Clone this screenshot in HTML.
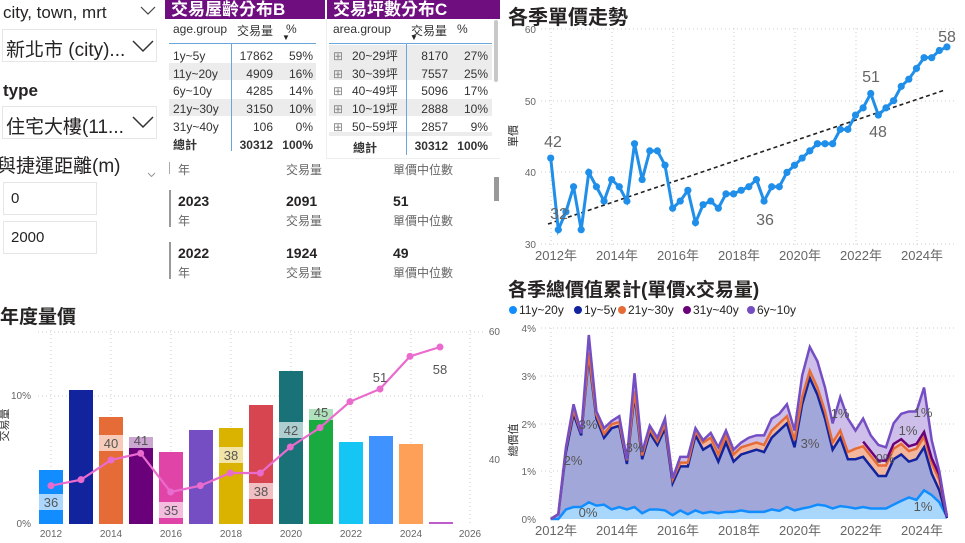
<!DOCTYPE html>
<html><head><meta charset="utf-8">
<style>
*{margin:0;padding:0;box-sizing:border-box}
body{width:965px;height:543px;background:#fff;position:relative;overflow:hidden;font-family:"Liberation Sans","Noto Sans CJK TC",sans-serif;color:#252423}
.a{position:absolute;white-space:nowrap}
.box{position:absolute;border:1px solid #e6e6e6;background:#fff}
.hd{position:absolute;background:#6f0e7f;color:#fff;font-weight:bold;font-size:17px;line-height:19px;padding-left:6px}
.t{font-size:12px;color:#333}
.r{text-align:right}
.sh{position:absolute;background:#ececec}
.g{color:#666}
</style></head><body>

<!-- left filters -->
<div class="a" style="left:3px;top:3px;font-size:17px">city, town, mrt</div>
<svg class="a" style="left:140px;top:6px" width="16" height="10"><polyline points="1,1 8,8 15,1" fill="none" stroke="#444" stroke-width="1.2"/></svg>
<div class="box" style="left:2px;top:29px;width:155px;height:33px"></div>
<div class="a" style="left:6px;top:35px;font-size:19px">新北市 (city)...</div>
<svg class="a" style="left:132px;top:40px" width="22" height="13"><polyline points="1,1 11,11 21,1" fill="none" stroke="#333" stroke-width="1.5"/></svg>
<div class="a" style="left:3px;top:81px;font-size:17px;font-weight:bold">type</div>
<div class="box" style="left:2px;top:106px;width:155px;height:33px"></div>
<div class="a" style="left:6px;top:112px;font-size:19px">住宅大樓(11...</div>
<svg class="a" style="left:132px;top:116px" width="22" height="13"><polyline points="1,1 11,11 21,1" fill="none" stroke="#333" stroke-width="1.5"/></svg>
<div class="a" style="left:-3px;top:151px;font-size:19px">與捷運距離(m)</div>
<svg class="a" style="left:147px;top:172px" width="9" height="6"><polyline points="1,1 4.5,4.5 8,1" fill="none" stroke="#999" stroke-width="1"/></svg>
<div class="box" style="left:3px;top:182px;width:94px;height:33px"></div>
<div class="a" style="left:11px;top:190px;font-size:15px">0</div>
<div class="box" style="left:3px;top:221px;width:94px;height:33px"></div>
<div class="a" style="left:11px;top:229px;font-size:15px">2000</div>

<!-- table B -->
<div class="hd" style="left:165px;top:0;width:160px;height:19px">交易屋齡分布B</div>
<div class="a t" style="left:173px;top:22px">age.group</div>
<div class="a t" style="left:237px;top:22px">交易量</div>
<div class="a t" style="left:286px;top:22px">%</div>
<div class="a" style="left:282px;top:33px;font-size:8px">&#9660;</div>
<div class="a" style="left:169px;top:43px;width:147px;height:1px;background:#6aa6d8"></div>
<div class="sh" style="left:169px;top:63px;width:147px;height:17px"></div>
<div class="sh" style="left:169px;top:99px;width:147px;height:17px"></div>
<div class="a" style="left:231px;top:44px;width:1px;height:107px;background:#6aa6d8"></div>
<div class="a t" style="left:173px;top:48px;line-height:17.7px;font-size:12px">1y~5y<br>11y~20y<br>6y~10y<br>21y~30y<br>31y~40y<br><b>總計</b></div>
<div class="a t r" style="left:233px;top:48px;width:40px;line-height:17.7px">17862<br>4909<br>4285<br>3150<br>106<br><b>30312</b></div>
<div class="a t r" style="left:274px;top:48px;width:39px;line-height:17.7px">59%<br>16%<br>14%<br>10%<br>0%<br><b>100%</b></div>

<!-- table C -->
<div class="hd" style="left:327px;top:0;width:173px;height:19px">交易坪數分布C</div>
<div class="a" style="left:326px;top:19px;width:1px;height:140px;background:#eee"></div>
<div class="a" style="left:326px;top:158px;width:174px;height:1px;background:#eee"></div>
<div class="a t" style="left:333px;top:22px">area.group</div>
<div class="a t" style="left:411px;top:22px">交易量</div>
<div class="a t" style="left:457px;top:22px">%</div>
<div class="a" style="left:410px;top:33px;font-size:8px">&#9660;</div>
<div class="a" style="left:329px;top:43px;width:163px;height:1px;background:#6aa6d8"></div>
<div class="sh" style="left:329px;top:45px;width:163px;height:18px"></div>
<div class="sh" style="left:329px;top:63px;width:163px;height:17px"></div>
<div class="sh" style="left:329px;top:99px;width:163px;height:17px"></div>
<div class="sh" style="left:329px;top:132px;width:163px;height:4px"></div>
<div class="a" style="left:406px;top:44px;width:1px;height:111px;background:#6aa6d8"></div>
<div class="a t" style="left:333px;top:48px;line-height:17.7px;color:#888">⊞<br>⊞<br>⊞<br>⊞<br>⊞</div>
<div class="a t" style="left:352px;top:48px;line-height:17.7px">20~29坪<br>30~39坪<br>40~49坪<br>10~19坪<br>50~59坪</div>
<div class="a t" style="left:353px;top:139px"><b>總計</b></div>
<div class="a t r" style="left:408px;top:48px;width:40px;line-height:17.7px">8170<br>7557<br>5096<br>2888<br>2857</div>
<div class="a t r" style="left:450px;top:48px;width:38px;line-height:17.7px">27%<br>25%<br>17%<br>10%<br>9%</div>
<div class="a t r" style="left:408px;top:139px;width:40px"><b>30312</b></div>
<div class="a t r" style="left:450px;top:139px;width:38px"><b>100%</b></div>
<div class="a" style="left:494px;top:20px;width:4px;height:62px;background:#c8c8c8;border-radius:2px"></div>

<!-- cards -->
<div class="a" style="left:169px;top:162px;width:1px;height:12px;background:#aaa"></div>
<div class="a g" style="left:178px;top:161px;font-size:12px">年</div>
<div class="a g" style="left:286px;top:161px;font-size:12px">交易量</div>
<div class="a g" style="left:393px;top:161px;font-size:12px">單價中位數</div>
<div class="a" style="left:169px;top:190px;width:2px;height:37px;background:#999"></div>
<div class="a" style="left:178px;top:193px;font-size:14px;font-weight:bold">2023</div>
<div class="a" style="left:286px;top:193px;font-size:14px;font-weight:bold">2091</div>
<div class="a" style="left:393px;top:193px;font-size:14px;font-weight:bold">51</div>
<div class="a g" style="left:178px;top:212px;font-size:12px">年</div>
<div class="a g" style="left:286px;top:212px;font-size:12px">交易量</div>
<div class="a g" style="left:393px;top:212px;font-size:12px">單價中位數</div>
<div class="a" style="left:169px;top:242px;width:2px;height:37px;background:#999"></div>
<div class="a" style="left:178px;top:245px;font-size:14px;font-weight:bold">2022</div>
<div class="a" style="left:286px;top:245px;font-size:14px;font-weight:bold">1924</div>
<div class="a" style="left:393px;top:245px;font-size:14px;font-weight:bold">49</div>
<div class="a g" style="left:178px;top:264px;font-size:12px">年</div>
<div class="a g" style="left:286px;top:264px;font-size:12px">交易量</div>
<div class="a g" style="left:393px;top:264px;font-size:12px">單價中位數</div>
<div class="a" style="left:494px;top:177px;width:5px;height:24px;background:#999"></div>

<!-- titles -->
<div class="a" style="left:0;top:302px;font-size:19px;font-weight:bold">年度量價</div>
<div class="a" style="left:508px;top:1px;font-size:20px;font-weight:bold">各季單價走勢</div>
<div class="a" style="left:508px;top:275px;font-size:19px;font-weight:bold">各季總價值累計(單價x交易量)</div>

<svg id="s" width="965" height="543" style="position:absolute;left:0;top:0" font-family="Liberation Sans, Noto Sans CJK TC, sans-serif">
<g id="grid" stroke="#ccc" stroke-dasharray="1,3" fill="none"></g>
<g id="plot"></g>
<g font-size="10" fill="#666">
<text x="31" y="399" text-anchor="end">10%</text>
<text x="31" y="527" text-anchor="end">0%</text>
<text x="500" y="335" text-anchor="end">60</text>
<text x="500" y="463" text-anchor="end">40</text>
<text x="51" y="537" text-anchor="middle">2012</text>
<text x="111" y="537" text-anchor="middle">2014</text>
<text x="171" y="537" text-anchor="middle">2016</text>
<text x="231" y="537" text-anchor="middle">2018</text>
<text x="291" y="537" text-anchor="middle">2020</text>
<text x="351" y="537" text-anchor="middle">2022</text>
<text x="411" y="537" text-anchor="middle">2024</text>
<text x="470" y="537" text-anchor="middle">2026</text>
<text transform="translate(8,425) rotate(-90)" text-anchor="middle" fill="#333" font-size="11">交易量</text>
</g>
<g font-size="10" fill="#666">
<text x="536" y="33" text-anchor="end">60</text>
<text x="536" y="105" text-anchor="end">50</text>
<text x="536" y="176" text-anchor="end">40</text>
<text x="536" y="248" text-anchor="end">30</text>
<text transform="translate(517,136) rotate(-90)" text-anchor="middle" fill="#333" font-size="11">單價</text>
</g>
<g font-size="13" fill="#666" text-anchor="middle">
<text x="556" y="260">2012年</text><text x="617" y="260">2014年</text><text x="678" y="260">2016年</text><text x="739" y="260">2018年</text><text x="800" y="260">2020年</text><text x="861" y="260">2022年</text><text x="922" y="260">2024年</text>
<text x="556" y="535">2012年</text><text x="617" y="535">2014年</text><text x="678" y="535">2016年</text><text x="739" y="535">2018年</text><text x="800" y="535">2020年</text><text x="861" y="535">2022年</text><text x="922" y="535">2024年</text>
</g>
<g font-size="16" fill="#666" text-anchor="middle">
<text x="553" y="147">42</text><text x="559" y="219">32</text><text x="765" y="225">36</text><text x="871" y="82">51</text><text x="878" y="137">48</text><text x="947" y="42">58</text>
</g>
<g font-size="10" fill="#666">
<text x="536" y="332" text-anchor="end">4%</text>
<text x="536" y="380" text-anchor="end">3%</text>
<text x="536" y="428" text-anchor="end">2%</text>
<text x="536" y="475" text-anchor="end">1%</text>
<text x="536" y="523" text-anchor="end">0%</text>
<text transform="translate(517,440) rotate(-90)" text-anchor="middle" fill="#333" font-size="11">總價值</text>
</g>
<g font-size="12" fill="#252423">
<circle cx="513" cy="310" r="4" fill="#118dff"/><text x="519" y="314">11y~20y</text>
<circle cx="578" cy="310" r="4" fill="#12239e"/><text x="584" y="314">1y~5y</text>
<circle cx="622" cy="310" r="4" fill="#e66c37"/><text x="628" y="314">21y~30y</text>
<circle cx="687" cy="310" r="4" fill="#6b007b"/><text x="693" y="314">31y~40y</text>
<circle cx="751" cy="310" r="4" fill="#744ec2"/><text x="757" y="314">6y~10y</text>
</g>
<g font-size="13" fill="#555" text-anchor="middle">
<text x="588" y="429">3%</text><text x="573" y="465">2%</text><text x="588" y="517">0%</text><text x="635" y="452">3%</text><text x="810" y="448">3%</text><text x="840" y="418">1%</text><text x="885" y="463">0%</text><text x="908" y="435">1%</text><text x="923" y="417">1%</text><text x="923" y="511">1%</text>
</g>
<g id="bl"></g>
</svg>

<script>
var NS="http://www.w3.org/2000/svg";
function el(p,t,a){var e=document.createElementNS(NS,t);for(var k in a)e.setAttribute(k,a[k]);document.getElementById(p).appendChild(e);return e;}
[51,111,171,231,291,351,411,470].forEach(function(x){el('grid','line',{x1:x,y1:330,x2:x,y2:524});});
[332,396].forEach(function(y){el('grid','line',{x1:38,y1:y,x2:485,y2:y});});
[551,612,673,734,795,856,917].forEach(function(x){el('grid','line',{x1:x,y1:28,x2:x,y2:245});el('grid','line',{x1:x,y1:328,x2:x,y2:519});});
[29,101,172,244].forEach(function(y){el('grid','line',{x1:541,y1:y,x2:955,y2:y});});
[328,376,424,471].forEach(function(y){el('grid','line',{x1:541,y1:y,x2:955,y2:y});});
var v=[42,32,34.5,38,32,40,38,36,39,38,36,44,39,43,43,41,35,36,37.5,33,35.5,36,35,37,37,37.5,38,39,36,38,38,40,41,42,43,44,44,44,46,46,48,49,51,48,49,50,52,53,54.5,56,56,57,57.5];
function X(i){return 550.7+i*7.62;}
function Y(val){return 29+(60-val)*7.17;}
el('plot','line',{x1:548,y1:Y(32.8),x2:945,y2:Y(51.5),stroke:'#222','stroke-width':1.6,'stroke-dasharray':'4,3'});
el('plot','polyline',{points:v.map(function(a,i){return X(i)+','+Y(a)}).join(' '),fill:'none',stroke:'#1f8fea','stroke-width':3});
v.forEach(function(a,i){el('plot','circle',{cx:X(i),cy:Y(a),r:3.6,fill:'#1f8fea'});});
var tot=[0,0.1,1.5,2.4,1.8,3.85,2.25,1.9,2.05,2.15,1.25,3.05,1.4,1.95,1.7,2.1,0.85,1.3,1.3,1.9,1.65,1.8,1.5,1.85,1.45,1.6,1.7,1.75,1.75,2.1,2.2,2.4,1.85,3.0,3.6,3.3,2.75,2.0,2.55,2.1,1.85,2.1,1.75,1.55,1.5,2.0,2.2,2.25,2.25,2.75,1.65,1.0,0.05];
var y5=[0,0.1,1.4,2.2,1.75,3.4,2.1,1.7,1.9,1.95,1.15,2.6,1.25,1.8,1.55,1.9,0.75,1.1,1.1,1.75,1.45,1.55,1.2,1.6,1.2,1.35,1.4,1.45,1.4,1.7,1.85,2.0,1.5,2.4,2.95,2.6,2.1,1.45,1.7,1.25,1.25,1.3,1.1,0.9,0.9,1.25,1.35,1.2,1.25,1.5,0.95,0.6,0.02];
var or=y5.map(function(a,i){var d=i<2?0:(i<20?0.08:(i<40?0.15:0.22));return Math.min(a+d,tot[i]);});
var pu=or.map(function(a,i){return Math.min(a+(i>=41?0.1:0.02),tot[i]);});
var lb=[0,0,0.2,0.25,0.25,0.35,0.28,0.3,0.2,0.25,0.2,0.25,0.12,0.2,0.2,0.18,0.08,0.18,0.1,0.18,0.12,0.15,0.12,0.15,0.15,0.18,0.15,0.15,0.15,0.2,0.17,0.25,0.18,0.22,0.25,0.3,0.28,0.22,0.27,0.25,0.22,0.25,0.22,0.22,0.22,0.3,0.38,0.45,0.4,0.6,0.5,0.35,0.05];
function Y2(val){return 519-val*47.8;}
function pts(a){return a.map(function(q,i){return X(i)+','+Y2(q)}).join(' ');}
function area(a,f){el('plot','polygon',{points:pts(a)+' '+X(52)+',519 '+X(0)+',519',fill:f});}
area(tot,'#cdbfe9');area(pu,'#e9c7d6');area(or,'#f3b79e');area(y5,'#a2a7da');area(lb,'#a9d6fb');
el('plot','polyline',{points:pts(lb),fill:'none',stroke:'#118dff','stroke-width':2.5});
el('plot','polyline',{points:pts(y5),fill:'none',stroke:'#12239e','stroke-width':2.5});
el('plot','polyline',{points:pts(or),fill:'none',stroke:'#e66c37','stroke-width':2.5});
el('plot','polyline',{points:pts(pu.slice(41)),fill:'none',stroke:'#6b007b','stroke-width':2.5,transform:'translate('+(41*7.62)+',0)'});
el('plot','polyline',{points:pts(tot),fill:'none',stroke:'#744ec2','stroke-width':2.5});
var tops=[470,390,417,437,452,430,428,405,371,409,442,436,444,522];
var cols=['#118dff','#12239e','#e66c37','#6b007b','#e044a7','#744ec2','#d9b300','#d64550','#197278','#1aab40','#15c6f4','#4092ff','#ffa058','#be5dc9'];
tops.forEach(function(t,i){var cx=51+i*30;el('bl','rect',{x:cx-12,y:t,width:24,height:524-t,fill:cols[i]});});
var lbls=[[51,502,'36'],[111,443,'40'],[141,440,'41'],[171,510,'35'],[231,455,'38'],[261,491,'38'],[291,430,'42'],[321,412,'45']];
lbls.forEach(function(l){el('bl','rect',{x:l[0]-12,y:l[1]-8,width:24,height:16,fill:'#fff','fill-opacity':0.65});});
var lp=[[153,587],[243,569],[333,510],[422,490],[512,606],[601,587],[691,549],[781,549],[871,471],[960,413],[1050,335],[1140,297],[1230,199],[1320,171]].map(function(p){return [p[0]/3,290+p[1]/3];});
el('bl','polyline',{points:lp.map(function(p){return p.join(',')}).join(' '),fill:'none',stroke:'#e96bcd','stroke-width':2.2});
lp.forEach(function(p){el('bl','circle',{cx:p[0],cy:p[1],r:3.5,fill:'#e96bcd'});});
lbls.concat([[380,377,'51'],[440,369,'58']]).forEach(function(l){var t=el('bl','text',{x:l[0],y:l[1]+5,'text-anchor':'middle','font-size':13,fill:'#555'});t.textContent=l[2];});
</script>
</body></html>
